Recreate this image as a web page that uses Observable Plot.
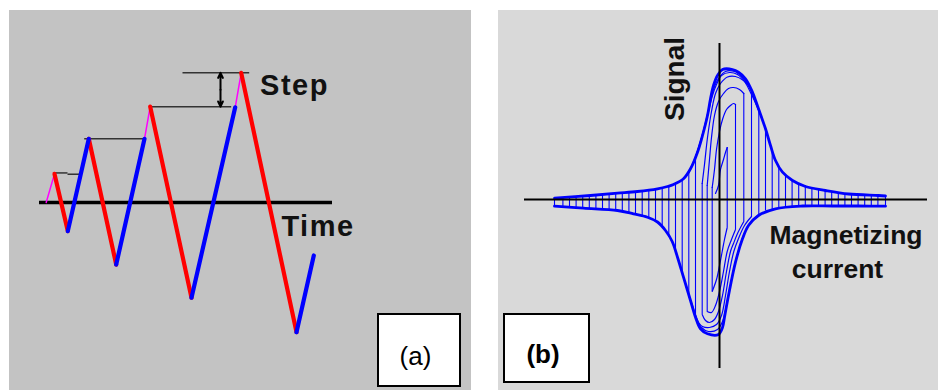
<!DOCTYPE html>
<html><head><meta charset="utf-8">
<script src="https://cdn.jsdelivr.net/npm/d3@7"></script>
<script src="https://cdn.jsdelivr.net/npm/@observablehq/plot@0.6"></script>
<style>
body{margin:0;background:#fff;font-family:"Liberation Sans",Arial,sans-serif}
#wrap{position:relative;width:939px;height:390px;overflow:hidden;background:#fff}
.panel{position:absolute}
#pa text{letter-spacing:1.5px}
.box{position:absolute;box-sizing:border-box;border:2px solid #000;background:#fff;display:flex;align-items:center;justify-content:center;font-size:26px;color:#000;font-family:"Liberation Sans",Arial,sans-serif}
</style></head><body>
<div id="wrap">
  <div id="pa" class="panel" style="left:9px;top:10px"></div>
  <div id="pb" class="panel" style="left:498px;top:10px"></div>
  <div class="box" style="left:377px;top:313px;width:84px;height:74px;padding:12px 7px 0 0">(a)</div>
  <div class="box" style="left:503px;top:313px;width:87px;height:70px;padding:13px 7px 0 0;font-weight:bold">(b)</div>
</div>
<script>
// ---------- Panel (a): stepped triangular magnetizing waveform ----------
const waveTime  = [0, 8.3, 21.6, 42.6, 70, 98.3, 104, 145.3, 189, 195, 250.3, 267.6];
const waveValue = [0, 0.88, -0.88, 1.96, -1.91, 1.96, 2.95, -2.93, 2.93, 3.99, -3.99, -1.63];
const waveKind  = ["step","down","up","down","up","step","down","up","step","down","up"];
const refStart  = [7.3, 21.3, 38, 103.3, 136.3];
const refEnd    = [21.3, 35.3, 98.3, 185, 203];
const refLevel  = [0.91, 0.87, 1.96, 2.95, 3.99];
const stepArrowTime = 174.3;
const stepArrowFrom = 2.95;
const stepArrowTo   = 3.99;
const timeAxisRange = [-6.7, 286.3];

// ---------- Panel (b): signal vs magnetizing current loops ----------
const outerUpH = [-165,-129,-102,-82,-62,-52,-46,-36,-29,-22,-17,-12,-9,-6,-2,3,13,19,26,33,39,46,51,56,63,73,86,106,129,159,166];
const outerUpS = [1.3,4,6.3,8,10.7,13,15,20.7,30.7,47.3,64,84,100.7,114,124,130,130,127.3,120.7,107.3,90.7,70.7,54,39,27.3,19,13,9,5.5,4,3.5];
const outerDownH = [166,139,113,83,56,39,29,23,16,9,5,3,-1,-12,-19,-24,-29,-36,-42,-47.3,-54,-62,-72,-86,-102,-136,-165];
const outerDownS = [-6.7,-6.5,-6.5,-6.5,-9.3,-16,-26,-39.3,-62.7,-96,-117.7,-128,-135,-134.3,-129.3,-117.7,-101,-77.7,-57.7,-42,-31,-22.5,-17.7,-14.3,-11,-8.7,-6.7];
const innerUp = [
  {h:[-4,-1,1,4,6,7.7], s:[6,14,30,40,47,52]},
  {h:[-7.3,-5,-3,0,3,7,11,14,16], s:[12,30,50,68,80,90,94,96,95]},
  {h:[-12.3,-10,-8,-5,-1,4,9,14,20,24.3], s:[14,40,62,84,98,106,111,112,110,106]},
  {h:[-17.3,-15,-12,-8,-4,1,8,16,24,28,32], s:[16,35,62,88,106,116,122.5,123,119,115,110]},
  {h:[-24,-20,-15,-11,-7,-3,2,10,18,25,32,39.3], s:[42,55,72,88,104,115,124,127,125,118,105,89]},
  {h:[-30.7,-25,-19.5,-14.5,-10,-6,-1,6,15,22,29,35,39.3], s:[27,40,56,75,94,110,121,128,128,123,114,100,89]}
];
const innerDown = [
  {h:[7.7,5,2.7,0,-3,-7.3], s:[-28,-40,-52,-66,-80,-92]},
  {h:[16,12,7.7,4,0,-4,-8,-12.3], s:[-30,-40,-52,-72,-92,-106,-113,-112]},
  {h:[24.3,18,14,11,7,3,-1,-5,-10,-14,-17.3], s:[-22,-34,-44,-52,-72,-96,-112,-120,-123,-121,-115]},
  {h:[32,25,19,14.3,10,6,2,-3,-10,-17,-21,-24], s:[-17,-26,-39,-52,-72,-96,-116,-125,-128,-127,-123,-117]},
  {h:[39.3,30,24,17,11,7,3,-2,-11,-18,-23,-27,-30.7], s:[-15,-24,-36,-58,-85,-106,-122,-130,-132,-128,-118,-106,-96]}
];
const combH = [7.7,16,24.3,32,39.3,46,52.7,59.3,66,72.6,79.2,85.8,92.4,99,105.6,112.2,118.8,125.4,132,138.6,145.2,151.8,158.4,166,
  -7.3,-12.3,-17.3,-24,-30.7,-37.3,-44,-50.7,-57.3,-64,-70.7,-77.3,-84,-90.6,-97.2,-103.8,-110.4,-117,-123.6,-130.2,-136.8,-143.4,-150,-156.6,-165];
const combTop = [52,95,106,110,89,70,50,33,24,19,16,14,12,10.5,9.5,8,7,6,5.5,5,4.5,4.2,4,3.5,
  12,14,16,42,27,19.5,16,13.5,11.5,10.3,9.3,8.5,7.8,7.2,6.7,6.2,5.5,5,4.5,4,3.5,3,2.5,2,1.3];
const combBottom = [-28,-30,-22,-17,-15,-11.5,-10,-9,-8,-7.5,-7,-7,-6.5,-6.5,-6.5,-6.5,-6.5,-6.5,-6.5,-6.5,-6.5,-6.5,-6.5,-6.7,
  -92,-112,-115,-117,-96,-74,-52,-38,-26,-21,-18,-16,-14.5,-13,-12,-11,-10.5,-10,-9.5,-9,-8.7,-8,-7.5,-7,-6.7];
const axisH = [-195, 208];
const axisS = [-169, 156];

const FONT = '"Liberation Sans", Arial, sans-serif';

// build panel (a)
const segs = [];
waveKind.forEach((k, i) => {
  segs.push({t: waveTime[i], v: waveValue[i], k, id: i});
  segs.push({t: waveTime[i+1], v: waveValue[i+1], k, id: i});
});
const refs = refLevel.map((v, i) => ({t1: refStart[i], t2: refEnd[i], v}));
const stepMid = (stepArrowFrom + stepArrowTo) / 2;

const plotA = Plot.plot({
  width: 462, height: 380, margin: 0,
  style: {background: "#c3c3c3", overflow: "visible"},
  x: {domain: [-6.7, 286.3], range: [30, 323], axis: null},
  y: {domain: [-4, 4], range: [322, 62], axis: null},
  marks: [
    Plot.link(refs, {x1: "t1", x2: "t2", y1: "v", y2: "v", stroke: "#333", strokeWidth: 1.5}),
    Plot.ruleY([0], {x1: timeAxisRange[0], x2: timeAxisRange[1], stroke: "#000", strokeWidth: 3.5}),
    Plot.line(segs.filter(d => d.k === "step"), {x: "t", y: "v", z: "id", stroke: "#ff00ff", strokeWidth: 1.5}),
    Plot.line(segs.filter(d => d.k === "down"), {x: "t", y: "v", z: "id", stroke: "#ff0000", strokeWidth: 4.2}),
    Plot.line(segs.filter(d => d.k === "up"), {x: "t", y: "v", z: "id", stroke: "#0000ff", strokeWidth: 4.2}),
    Plot.arrow([{t: stepArrowTime, a: stepMid, b: stepArrowTo}, {t: stepArrowTime, a: stepMid, b: stepArrowFrom}],
      {x1: "t", x2: "t", y1: "a", y2: "b", stroke: "#000", strokeWidth: 2, headLength: 7, headAngle: 50}),
    Plot.text(["Step"], {x: 248.3, y: 3.59, text: d => d, fontSize: 29, fontWeight: "bold", fontFamily: FONT, fill: "#111", textAnchor: "middle", lineAnchor: "middle"}),
    Plot.text(["Time"], {x: 271.8, y: -0.73, text: d => d, fontSize: 29, fontWeight: "bold", fontFamily: FONT, fill: "#111", textAnchor: "middle", lineAnchor: "middle"})
  ]
});
document.getElementById("pa").appendChild(plotA);

// build panel (b)
const zip = (H, S, id) => H.map((h, i) => ({h, s: S[i], id}));
const outer = [...zip(outerUpH, outerUpS, "up"), ...zip(outerDownH, outerDownS, "down")];
const inner = [];
innerUp.forEach((c, i) => inner.push(...zip(c.h, c.s, "u" + i)));
innerDown.forEach((c, i) => inner.push(...zip(c.h, c.s, "d" + i)));
const comb = combH.map((h, i) => ({h, top: combTop[i], bottom: combBottom[i]}));

const plotB = Plot.plot({
  width: 440, height: 380, margin: 0,
  style: {background: "#d9d9d9", overflow: "visible"},
  x: {domain: [-195, 208], range: [26, 429], axis: null},
  y: {domain: [-169, 156], range: [358, 33], axis: null},
  marks: [
    Plot.ruleX(comb, {x: "h", y1: "top", y2: "bottom", stroke: "#0000ff", strokeWidth: 1.1}),
    Plot.line(inner, {x: "h", y: "s", z: "id", stroke: "#0000ff", strokeWidth: 1.2, curve: "catmull-rom"}),
    Plot.line(outer, {x: "h", y: "s", z: "id", stroke: "#0000ff", strokeWidth: 2.8, curve: "catmull-rom"}),
    Plot.ruleY([0], {x1: axisH[0], x2: axisH[1], stroke: "#000", strokeWidth: 2}),
    Plot.ruleX([0], {y1: axisS[0], y2: axisS[1], stroke: "#000", strokeWidth: 2}),
    Plot.text(["Signal"], {x: -44, y: 120.5, text: d => d, rotate: -90, fontSize: 28, fontWeight: "bold", fontFamily: FONT, fill: "#111", textAnchor: "middle", lineAnchor: "middle"}),
    Plot.text(["Magnetizing"], {x: 126.5, y: -35.7, text: d => d, fontSize: 26.5, fontWeight: "bold", fontFamily: FONT, fill: "#111", textAnchor: "middle", lineAnchor: "middle"}),
    Plot.text(["current"], {x: 118, y: -69.7, text: d => d, fontSize: 26.5, fontWeight: "bold", fontFamily: FONT, fill: "#111", textAnchor: "middle", lineAnchor: "middle"})
  ]
});
document.getElementById("pb").appendChild(plotB);
</script>
</body></html>
